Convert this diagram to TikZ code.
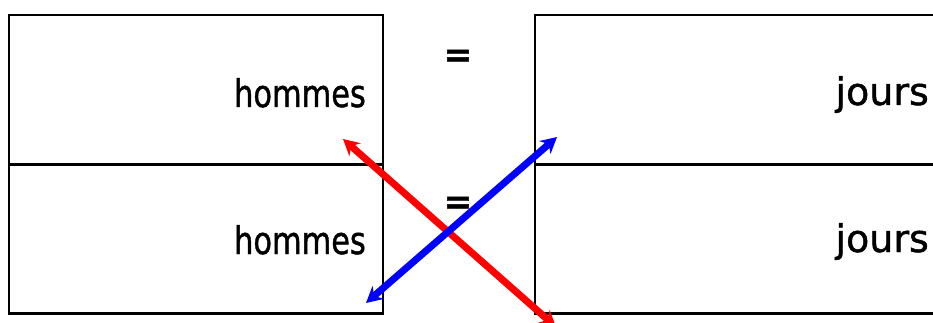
\documentclass[tikz,border=0pt]{standalone}
\usepackage{fontspec}
\setmainfont{DejaVu Sans}[FakeBold=1.2]
\usetikzlibrary{arrows.meta}
\begin{document}
\begin{tikzpicture}[x=1pt,y=-1pt,
  cell/.style={draw=black,line width=2.8pt,rectangle,inner sep=0pt,minimum width=#1,minimum height=149pt},
  word/.style={anchor=base east,inner sep=0pt,font=\fontsize{38}{40}\selectfont},
  eqsign/.style={inner sep=0pt,font=\fontsize{34}{36}\bfseries\selectfont},
  link/.style={line width=7pt,{Stealth[length=16pt,width=17pt]}-{Stealth[length=16pt,width=17pt]}}]
\useasboundingbox (0,0) rectangle (933,323);
\clip (0,0) rectangle (933,323);
\fill[white] (0,0) rectangle (933,323);
\node[cell=374pt] (lt) at (196,89.5) {};
\node[cell=374pt] (lb) at (196,239) {};
\node[cell=410pt] (rt) at (740,89.5) {};
\node[cell=410pt] (rb) at (740,239) {};
\node[word] (h1) at (366,107) {\scalebox{0.8}[1]{hommes}};
\node[word] (h2) at (366,254) {\scalebox{0.8}[1]{hommes}};
\node[word] (j1) at (929,105) {jours};
\node[word] (j2) at (929,252) {jours};
\node[eqsign] (e1) at (458,58) {=};
\node[eqsign] (e2) at (458,205) {=};
\coordinate (r1) at (343,139);
\coordinate (r2) at (556,327);
\coordinate (b1) at (366,303);
\coordinate (b2) at (557,137);
\draw[link,red] (r1) -- (r2);
\draw[link,blue] (b1) -- (b2);
\end{tikzpicture}
\end{document}
